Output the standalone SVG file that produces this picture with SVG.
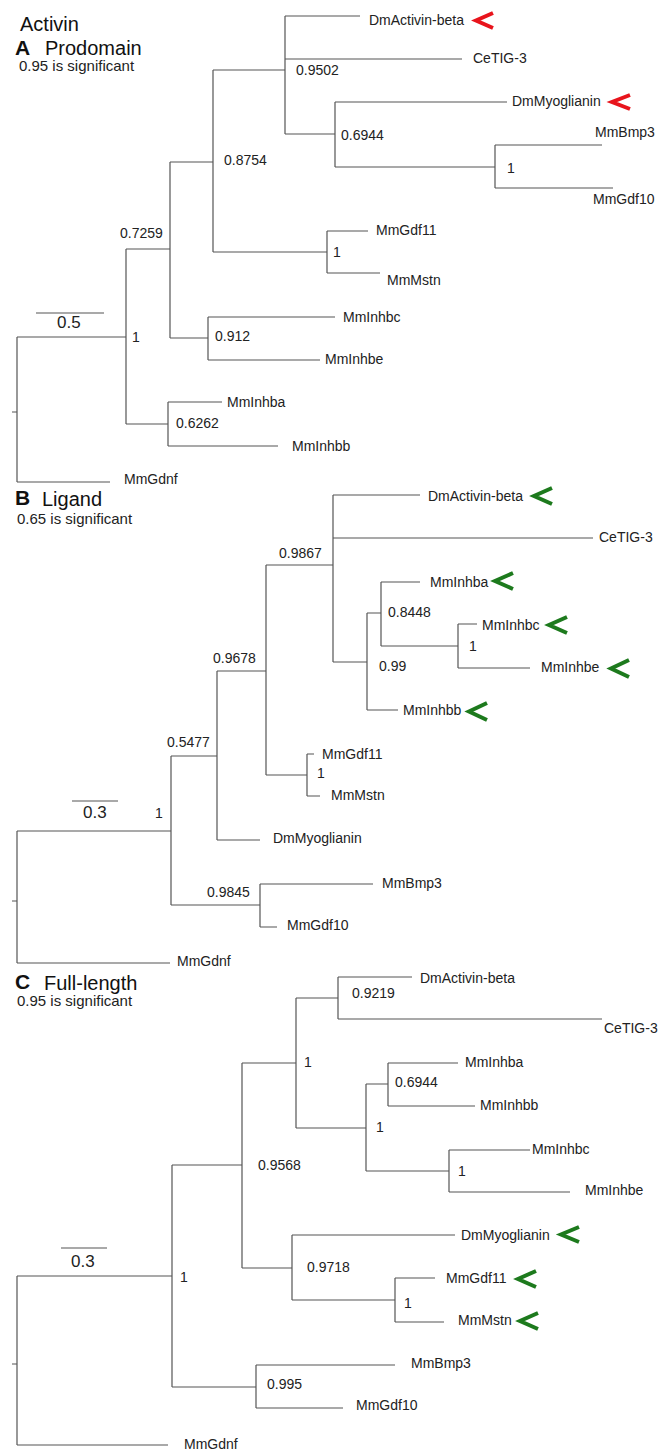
<svg xmlns="http://www.w3.org/2000/svg" width="669" height="1450" viewBox="0 0 669 1450">
<style>
.t{font-family:"Liberation Sans",Arial,sans-serif;font-size:14px;fill:#222}
.n{font-family:"Liberation Sans",Arial,sans-serif;font-size:14px;fill:#222}
.h{font-family:"Liberation Sans",Arial,sans-serif;font-size:20px;fill:#111}
.hb{font-family:"Liberation Sans",Arial,sans-serif;font-size:21px;font-weight:bold;fill:#111}
.s{font-family:"Liberation Sans",Arial,sans-serif;font-size:15px;fill:#222}
.sc{font-family:"Liberation Sans",Arial,sans-serif;font-size:17px;fill:#222}
.e{fill:none;stroke:#555;stroke-width:1.2}
.red{fill:none;stroke:#e8141c;stroke-width:4;stroke-linejoin:miter}
.grn{fill:none;stroke:#1d7a1d;stroke-width:4;stroke-linejoin:miter}
</style>
<rect width="669" height="1450" fill="#fff"/>

<g id="headers">
<text class="h" x="20" y="31">Activin</text>
<text class="hb" x="15" y="55">A</text><text class="h" x="45" y="55">Prodomain</text>
<text class="s" x="19" y="71">0.95 is significant</text>
<text class="hb" x="15" y="505">B</text><text class="h" x="42" y="506">Ligand</text>
<text class="s" x="17" y="524">0.65 is significant</text>
<text class="hb" x="15" y="989">C</text><text class="h" x="44" y="990">Full-length</text>
<text class="s" x="17" y="1006">0.95 is significant</text>
</g>

<g id="connectors">
<!-- Panel A -->
<path class="e" d="M12 412H17M17 337V482M17 337H126M17 482H110
M126 249V424M126 249H170M126 424H168
M170 162V338M170 162H213M170 338H208
M213 70V252M213 70H285M213 252H327
M285 16V134M285 16H360M285 59H462M285 134H335
M335 102V167M335 102H507M335 167H495
M495 145V188M495 145H602M495 188H613
M327 231V273M327 231H368M327 273H380
M208 317V360M208 317H335M208 360H320
M168 402V446M168 402H222M168 446H278"/>
<path class="e" d="M36 313H104"/>
<!-- Panel B -->
<path class="e" d="M12 901H17M17 831V963M17 831H171M17 963H170
M171 756V905M171 756H217M171 905H260
M217 671V840M217 671H266M217 840H260
M266 565V775M266 565H333M266 775H307
M333 495V662M333 495H420M333 538H593M333 662H367
M367 613V710M367 613H381M367 710H398
M381 582V646M381 582H420M381 646H458
M458 624V668M458 624H477M458 668H530
M307 754V796M307 754H314M307 796H320
M260 884V927M260 884H373M260 927H277"/>
<path class="e" d="M72 801H118"/>
<!-- Panel C -->
<path class="e" d="M12 1364H17M17 1276V1445M17 1276H172M17 1445H168
M172 1165V1387M172 1165H242M172 1387H256
M242 1063V1268M242 1063H296M242 1268H292
M296 998V1128M296 998H338M296 1128H366
M338 977V1019M338 977H412M338 1019H602
M366 1084V1171M366 1084H388M366 1171H449
M388 1063V1106M388 1063H458M388 1106H475
M449 1150V1192M449 1150H530M449 1192H570
M292 1235V1300M292 1235H455M292 1300H395
M395 1278V1322M395 1278H435M395 1322H444
M256 1365V1408M256 1365H395M256 1408H343"/>
<path class="e" d="M61 1248H107"/>
</g>

<!-- Panel A nodes -->
<g id="A-scale"><text class="sc" x="57" y="328">0.5</text></g>
<g id="A-support">
<text class="n" x="132" y="342">1</text>
<text class="n" x="120" y="238">0.7259</text>
<text class="n" x="224" y="165">0.8754</text>
<text class="n" x="296" y="75">0.9502</text>
<text class="n" x="341" y="140">0.6944</text>
<text class="n" x="507" y="173">1</text>
<text class="n" x="333" y="257">1</text>
<text class="n" x="215" y="341">0.912</text>
<text class="n" x="176" y="428">0.6262</text>
</g>
<g id="A-DmActivin-beta"><text class="t" x="369" y="25">DmActivin-beta</text><polyline class="red" points="493,13 476,20.5 493,28"/></g>
<g id="A-CeTIG-3"><text class="t" x="473" y="63">CeTIG-3</text></g>
<g id="A-DmMyoglianin"><text class="t" x="512" y="106">DmMyoglianin</text><polyline class="red" points="630,95 612,102 630,109"/></g>
<g id="A-MmBmp3"><text class="t" x="595" y="137">MmBmp3</text></g>
<g id="A-MmGdf10"><text class="t" x="593" y="204">MmGdf10</text></g>
<g id="A-MmGdf11"><text class="t" x="376" y="235">MmGdf11</text></g>
<g id="A-MmMstn"><text class="t" x="387" y="285">MmMstn</text></g>
<g id="A-MmInhbc"><text class="t" x="343" y="322">MmInhbc</text></g>
<g id="A-MmInhbe"><text class="t" x="325" y="364">MmInhbe</text></g>
<g id="A-MmInhba"><text class="t" x="227" y="407">MmInhba</text></g>
<g id="A-MmInhbb"><text class="t" x="292" y="451">MmInhbb</text></g>
<g id="A-MmGdnf"><text class="t" x="124" y="484">MmGdnf</text></g>

<!-- Panel B nodes -->
<g id="B-scale"><text class="sc" x="83" y="818">0.3</text></g>
<g id="B-support">
<text class="n" x="155" y="818">1</text>
<text class="n" x="167" y="747">0.5477</text>
<text class="n" x="213" y="663">0.9678</text>
<text class="n" x="279" y="558">0.9867</text>
<text class="n" x="388" y="617">0.8448</text>
<text class="n" x="469" y="651">1</text>
<text class="n" x="379" y="671">0.99</text>
<text class="n" x="317" y="778">1</text>
<text class="n" x="207" y="897">0.9845</text>
</g>
<g id="B-DmActivin-beta"><text class="t" x="428" y="501">DmActivin-beta</text><polyline class="grn" points="552,488 534,496 552,504"/></g>
<g id="B-CeTIG-3"><text class="t" x="599" y="542">CeTIG-3</text></g>
<g id="B-MmInhba"><text class="t" x="430" y="587">MmInhba</text><polyline class="grn" points="513,573 495,581 513,589"/></g>
<g id="B-MmInhbc"><text class="t" x="482" y="630">MmInhbc</text><polyline class="grn" points="567,617 549,625 567,633"/></g>
<g id="B-MmInhbe"><text class="t" x="541" y="672">MmInhbe</text><polyline class="grn" points="629,660 611,668.5 629,677"/></g>
<g id="B-MmInhbb"><text class="t" x="403" y="715">MmInhbb</text><polyline class="grn" points="487,703 469,711.5 487,720"/></g>
<g id="B-MmGdf11"><text class="t" x="322" y="759">MmGdf11</text></g>
<g id="B-MmMstn"><text class="t" x="331" y="800">MmMstn</text></g>
<g id="B-DmMyoglianin"><text class="t" x="273" y="843">DmMyoglianin</text></g>
<g id="B-MmBmp3"><text class="t" x="382" y="888">MmBmp3</text></g>
<g id="B-MmGdf10"><text class="t" x="287" y="930">MmGdf10</text></g>
<g id="B-MmGdnf"><text class="t" x="177" y="966">MmGdnf</text></g>

<!-- Panel C nodes -->
<g id="C-scale"><text class="sc" x="71" y="1267">0.3</text></g>
<g id="C-support">
<text class="n" x="352" y="998">0.9219</text>
<text class="n" x="304" y="1067">1</text>
<text class="n" x="258" y="1170">0.9568</text>
<text class="n" x="376" y="1132">1</text>
<text class="n" x="395" y="1087">0.6944</text>
<text class="n" x="458" y="1176">1</text>
<text class="n" x="307" y="1272">0.9718</text>
<text class="n" x="404" y="1308">1</text>
<text class="n" x="180" y="1282">1</text>
<text class="n" x="267" y="1389">0.995</text>
</g>
<g id="C-DmActivin-beta"><text class="t" x="420" y="983">DmActivin-beta</text></g>
<g id="C-CeTIG-3"><text class="t" x="604" y="1033">CeTIG-3</text></g>
<g id="C-MmInhba"><text class="t" x="465" y="1067">MmInhba</text></g>
<g id="C-MmInhbb"><text class="t" x="480" y="1110">MmInhbb</text></g>
<g id="C-MmInhbc"><text class="t" x="532" y="1154">MmInhbc</text></g>
<g id="C-MmInhbe"><text class="t" x="585" y="1195">MmInhbe</text></g>
<g id="C-DmMyoglianin"><text class="t" x="461" y="1240">DmMyoglianin</text><polyline class="grn" points="579,1227 561,1234.5 579,1242"/></g>
<g id="C-MmGdf11"><text class="t" x="446" y="1283">MmGdf11</text><polyline class="grn" points="536,1271 518,1279 536,1287"/></g>
<g id="C-MmMstn"><text class="t" x="458" y="1325">MmMstn</text><polyline class="grn" points="538,1313 520,1321 538,1329"/></g>
<g id="C-MmBmp3"><text class="t" x="411" y="1368">MmBmp3</text></g>
<g id="C-MmGdf10"><text class="t" x="356" y="1410">MmGdf10</text></g>
<g id="C-MmGdnf"><text class="t" x="184" y="1449">MmGdnf</text></g>
</svg>
